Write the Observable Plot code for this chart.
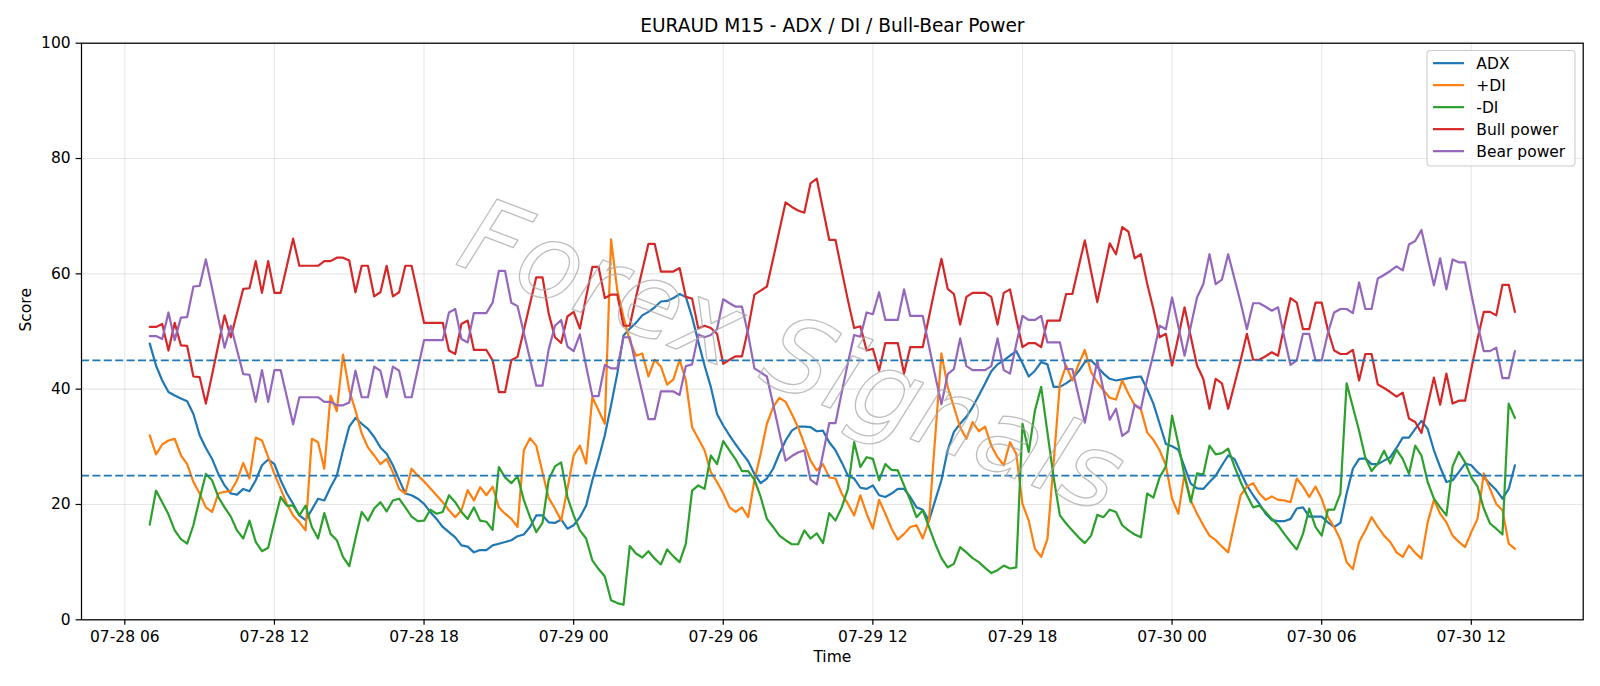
<!DOCTYPE html>
<html>
<head>
<meta charset="utf-8">
<script src="https://cdn.jsdelivr.net/npm/d3@7"></script>
<script src="https://cdn.jsdelivr.net/npm/@observablehq/plot@0.6"></script>
<style>
  html, body { margin: 0; padding: 0; background: #ffffff; }
  #chart { width: 1600px; height: 686px; }
</style>
</head>
<body>
<div id="chart"></div>
<script>
// EURAUD M15 indicator readings, one value per 15-minute bar
const startTime = "2025-07-28T07:00:00Z";
const stepMinutes = 15;

const adx = [
  47.9, 44.1, 41.5, 39.5, 38.9, 38.4, 37.9, 35.7, 32.0, 29.8, 27.9, 25.3, 23.3, 21.9, 21.7, 22.7, 22.3, 24.2, 26.8, 27.8,
  27.0, 24.2, 21.9, 20.1, 18.1, 17.3, 19.1, 21.0, 20.7, 23.0, 25.0, 29.4, 33.5,
  35.0, 34.0, 33.1, 31.7, 29.9, 28.8, 26.8, 24.3, 21.9, 21.6, 21.0, 20.1, 18.7, 17.5, 16.1, 15.2, 14.3, 12.9,
  12.7, 11.7, 12.1, 12.1, 12.9, 13.2, 13.5, 13.8, 14.5, 14.8, 16.1, 18.1, 18.1, 16.9,
  16.8, 17.4, 15.8, 16.4, 17.8, 19.8, 24.2, 27.9, 32.0, 37.2, 42.7, 49.3, 50.5, 51.5, 52.8, 53.4,
  54.2, 55.2, 55.3, 55.8, 56.5, 56.0, 52.5, 48.2, 44.1, 40.4, 35.7, 33.7, 32.0, 30.4, 28.9, 27.5,
  25.3, 23.7, 24.5, 26.2, 28.8, 31.1, 32.8, 33.5, 33.5, 33.4, 32.7, 32.8, 30.8, 29.4, 27.3, 25.0,
  24.5, 22.9, 22.7, 23.3, 21.6, 21.3, 21.9, 22.7, 22.7, 21.3, 19.5, 19.1, 17.2, 20.7, 24.2, 29.4,
  32.6, 34.0, 35.2, 36.9, 38.9, 41.0, 43.1, 44.3, 45.0, 45.8, 46.6, 44.5, 42.2, 43.2, 44.7, 44.3,
  40.4, 40.4, 41.0, 41.8, 43.1, 44.7, 45.0, 43.9, 42.7, 41.8, 41.5, 41.7, 41.9, 42.1, 42.2, 40.0,
  37.5, 34.0, 30.5, 30.1, 29.5, 26.5, 23.6, 22.8, 22.7, 23.9, 25.0, 26.8, 28.5, 27.9, 25.6, 23.3,
  21.6, 20.1, 18.4, 17.3, 17.1, 17.1, 17.5, 19.3, 19.5, 17.9, 17.9, 17.9, 16.9, 16.1, 16.8, 21.9,
  26.2, 27.9, 28.0, 27.0, 27.0, 27.6, 28.2, 29.8, 31.6, 31.6, 33.1, 34.5, 33.1, 29.4, 26.5, 23.9,
  24.2, 25.6, 27.1, 26.8, 25.6, 24.7, 23.6, 22.5, 21.0, 22.7, 26.8
];

const plusDI = [
  32.0, 28.7, 30.4, 31.1, 31.4, 28.5, 27.0, 23.9, 21.9, 19.5, 18.7, 21.9, 22.2, 22.3, 24.2, 27.2, 24.5, 31.6, 31.1, 28.2,
  25.3, 22.7, 20.1, 18.1, 16.9, 15.5, 31.4, 30.8, 26.2, 38.9, 36.2, 46.0, 39.8,
  36.3, 32.3, 29.9, 28.5, 27.0, 27.9, 25.6, 22.7, 21.9, 26.2, 25.0, 24.0, 22.8, 21.6, 20.4, 19.0,
  17.8, 19.0, 22.5, 20.7, 23.0, 21.6, 23.1, 19.5, 18.4, 17.5, 16.1, 29.4, 31.5, 30.2, 25.6, 21.1,
  19.3, 17.2, 22.7, 28.5, 30.2, 27.1, 38.6, 36.3, 34.0, 66.0, 57.1, 52.5, 48.4, 45.8, 46.2, 42.2,
  45.1, 43.9, 40.8, 41.7, 45.1, 41.5, 33.4, 31.4, 29.4, 25.6, 23.9, 21.9, 19.5, 18.7, 19.5, 17.8,
  24.2, 28.8, 34.0, 36.9, 38.5, 37.8, 35.7, 33.4, 30.5, 27.6, 25.9, 27.0, 24.7, 24.5, 21.9, 20.1,
  18.1, 21.6, 18.4, 15.8, 20.8, 18.4, 15.8, 13.9, 14.9, 16.1, 16.4, 14.1, 17.2, 31.7, 46.2, 40.4,
  36.9, 33.4, 31.4, 34.3, 32.7, 33.5, 30.2, 28.2, 26.8, 30.8, 28.8, 20.1, 17.2, 12.3, 10.9, 14.0,
  27.3, 40.9, 44.1, 41.5, 44.3, 46.8, 43.0, 41.2, 39.8, 38.5, 38.2, 41.5, 39.2, 37.2, 36.5, 32.5,
  31.2, 29.4, 26.8, 21.0, 18.4, 25.3, 20.7, 18.4, 16.4, 14.6, 13.8, 12.7, 11.7, 16.7, 21.6, 23.1,
  23.7, 21.9, 20.8, 21.4, 20.8, 20.7, 20.4, 24.5, 23.1, 21.3, 23.1, 21.0, 17.8, 16.1, 13.9, 10.0,
  8.8, 13.5, 15.5, 17.8, 16.1, 14.6, 13.5, 11.7, 10.9, 12.9, 11.6, 10.6, 16.9, 20.8, 18.4, 16.9,
  14.6, 13.5, 12.6, 15.2, 17.5, 25.4, 22.7, 20.1, 19.0, 13.2, 12.3
];

const minusDI = [
  16.5, 22.4, 20.4, 18.3, 15.5, 14.0, 13.2, 16.4, 21.0, 25.3, 24.2, 21.3, 19.5, 17.9, 15.5, 14.1, 17.2, 13.5, 11.9, 12.5,
  17.0, 21.3, 19.8, 19.8, 18.1, 19.8, 16.1, 14.1, 18.5, 14.9, 13.8, 10.9, 9.3,
  14.1, 18.7, 17.2, 19.3, 20.4, 18.8, 20.7, 21.0, 19.5, 17.9, 17.1, 17.2, 19.1, 18.4, 18.7, 21.6,
  20.4, 18.7, 17.5, 19.5, 17.2, 17.0, 15.6, 26.5, 24.7, 23.7, 24.9, 20.8, 17.8, 15.2, 16.8, 24.3,
  26.6, 27.3, 21.3, 18.1, 15.5, 14.1, 10.3, 8.8, 7.5, 3.4, 2.9, 2.6, 12.8, 11.5, 10.8, 11.9,
  10.6, 9.6, 12.2, 11.0, 10.0, 13.2, 22.4, 23.3, 22.7, 28.5, 27.0, 31.0, 29.4, 27.8, 25.8, 25.8,
  24.3, 21.3, 17.5, 16.1, 14.6, 13.8, 13.1, 13.1, 15.5, 14.1, 15.0, 13.3, 18.5, 17.2, 19.5, 22.7,
  30.8, 26.5, 28.2, 27.9, 24.2, 27.0, 26.0, 25.9, 23.3, 20.7, 17.8, 19.0, 16.1, 13.2, 10.7, 9.1,
  9.7, 12.6, 11.7, 10.7, 10.0, 9.0, 8.1, 8.6, 9.4, 8.9, 9.1, 34.0, 29.1, 36.3, 40.4, 32.5,
  24.7, 18.1, 16.7, 15.5, 14.3, 13.3, 14.6, 18.2, 17.8, 19.1, 18.7, 16.4, 15.5, 14.8, 14.3, 21.9,
  21.2, 24.7, 26.6, 35.4, 30.5, 24.9, 20.4, 25.4, 25.2, 30.2, 28.7, 28.9, 29.7, 26.6, 23.9, 21.6,
  19.5, 19.8, 18.7, 17.5, 16.4, 14.9, 13.5, 12.2, 14.9, 19.3, 16.1, 14.6, 19.1, 19.1, 21.9, 41.0,
  36.9, 32.8, 28.1, 25.8, 27.1, 29.3, 27.1, 29.5, 27.9, 25.3, 30.2, 28.5, 23.9, 21.0, 19.5, 18.1,
  26.6, 29.1, 27.3, 24.7, 23.1, 19.3, 16.7, 15.8, 14.8, 37.5, 35.0
];

const bullPower = [
  50.8, 50.8, 51.3, 46.7, 51.5, 47.6, 47.5, 42.2, 42.1, 37.5, 42.5, 47.7, 52.8, 49.0, 53.2, 57.4, 57.5, 62.2, 56.7, 62.2,
  56.7, 56.7, 61.4, 66.1, 61.4, 61.4, 61.4, 61.4, 62.2, 62.2, 62.8, 62.8, 62.3,
  56.8, 61.4, 61.4, 56.1, 56.8, 61.4, 56.1, 56.8, 61.4, 61.4, 56.5, 51.5, 51.5, 51.5, 51.5, 46.7,
  46.1, 51.3, 51.9, 46.8, 46.8, 46.8, 45.0, 39.5, 39.5, 45.0, 45.6, 50.2, 54.8, 59.4, 59.4, 53.1,
  49.0, 48.0, 52.6, 53.4, 50.5, 56.0, 61.2, 61.2, 55.8, 56.4, 56.4, 51.0, 51.0, 56.0, 60.6, 65.2,
  65.2, 60.4, 60.4, 60.4, 61.0, 56.0, 55.7, 50.5, 51.0, 50.6, 49.6, 44.4, 45.1, 45.7, 45.7, 50.5,
  56.4, 57.1, 57.8, 62.6, 67.5, 72.4, 71.6, 71.0, 70.6, 75.7, 76.5, 71.2, 65.9, 65.9, 60.6, 55.4,
  50.6, 50.9, 46.7, 47.0, 43.2, 48.0, 48.0, 48.0, 42.7, 47.3, 47.3, 47.3, 52.5, 57.7, 62.6, 57.4,
  56.5, 51.2, 56.0, 56.7, 56.7, 56.7, 56.0, 51.2, 56.7, 57.3, 52.2, 47.3, 48.0, 48.0, 47.3, 51.9,
  51.9, 51.9, 56.5, 56.5, 61.2, 65.8, 60.4, 55.1, 60.2, 65.3, 63.4, 68.1, 67.3, 62.7, 63.4, 58.3,
  53.9, 49.0, 49.6, 44.1, 49.1, 54.2, 49.1, 44.1, 41.8, 36.6, 41.8, 41.0, 36.6, 40.8, 45.0, 49.6,
  45.1, 45.1, 45.7, 46.4, 45.8, 51.0, 55.8, 55.0, 50.4, 50.4, 55.0, 55.0, 50.2, 46.7, 46.1, 46.1,
  46.8, 41.5, 46.1, 46.1, 40.8, 40.2, 39.5, 38.7, 39.4, 34.9, 34.3, 32.4, 37.2, 42.0, 37.3, 42.7,
  37.5, 38.0, 38.0, 43.5, 48.7, 53.4, 53.4, 52.8, 58.1, 58.1, 53.4
];

const bearPower = [
  49.2, 49.2, 48.7, 53.3, 48.5, 52.4, 52.5, 57.8, 57.9, 62.5, 57.5, 52.3, 47.2, 51.0, 46.8, 42.6, 42.5, 37.8, 43.3, 37.8,
  43.3, 43.3, 38.6, 33.9, 38.6, 38.6, 38.6, 38.6, 37.8, 37.8, 37.2, 37.2, 37.7,
  43.2, 38.6, 38.6, 43.9, 43.2, 38.6, 43.9, 43.2, 38.6, 38.6, 43.5, 48.5, 48.5, 48.5, 48.5, 53.3,
  53.9, 48.7, 48.1, 53.2, 53.2, 53.2, 55.0, 60.5, 60.5, 55.0, 54.4, 49.8, 45.2, 40.6, 40.6, 46.9,
  51.0, 52.0, 47.4, 46.6, 49.5, 44.0, 38.8, 38.8, 44.2, 43.6, 43.6, 49.0, 49.0, 44.0, 39.4, 34.8,
  34.8, 39.6, 39.6, 39.6, 39.0, 44.0, 44.3, 49.5, 49.0, 49.4, 50.4, 55.6, 54.9, 54.3, 54.3, 49.5,
  43.6, 42.9, 42.2, 37.4, 32.5, 27.6, 28.4, 29.0, 29.4, 24.3, 23.5, 28.8, 34.1, 34.1, 39.4, 44.6,
  49.4, 49.1, 53.3, 53.0, 56.8, 52.0, 52.0, 52.0, 57.3, 52.7, 52.7, 52.7, 47.5, 42.3, 37.4, 42.6,
  43.5, 48.8, 44.0, 43.3, 43.3, 43.3, 44.0, 48.8, 43.3, 42.7, 47.8, 52.7, 52.0, 52.0, 52.7, 48.1,
  48.1, 48.1, 43.5, 43.5, 38.8, 34.2, 39.6, 44.9, 39.8, 34.7, 36.6, 31.9, 32.7, 37.3, 36.6, 41.7,
  46.1, 51.0, 50.4, 55.9, 50.9, 45.8, 50.9, 55.9, 58.2, 63.4, 58.2, 59.0, 63.4, 59.2, 55.0, 50.4,
  54.9, 54.9, 54.3, 53.6, 54.2, 49.0, 44.2, 45.0, 49.6, 49.6, 45.0, 45.0, 49.8, 53.3, 53.9, 53.9,
  53.2, 58.5, 53.9, 53.9, 59.2, 59.8, 60.5, 61.3, 60.6, 65.1, 65.7, 67.6, 62.8, 58.0, 62.7, 57.3,
  62.5, 62.0, 62.0, 56.5, 51.3, 46.6, 46.6, 47.2, 41.9, 41.9, 46.6
];

const seriesNames = ["ADX", "+DI", "-DI", "Bull power", "Bear power"];
const seriesColors = ["#1f77b4", "#ff7f0e", "#2ca02c", "#d62728", "#9467bd"];
const referenceLevels = [25, 45];
const yTicks = [0, 20, 40, 60, 80, 100];
const chartTitle = "EURAUD M15 - ADX / DI / Bull-Bear Power";
const xLabel = "Time";
const yLabel = "Score";
const watermark = "Forex Signals";

// ---- derived table ----
const seriesValues = [adx, plusDI, minusDI, bullPower, bearPower];
const t0 = new Date(startTime);
const times = adx.map((_, i) => new Date(+t0 + i * stepMinutes * 60000));
const rows = seriesNames.flatMap((name, k) =>
  seriesValues[k].map((value, i) => ({series: name, time: times[i], value}))
);

// x extent padded by 5% of the data span on both sides
const span = times[times.length - 1] - times[0];
const xDomain = [new Date(+times[0] - 0.05 * span), new Date(+times[times.length - 1] + 0.05 * span)];
const xTicks = d3.utcHour.every(6).range(xDomain[0], xDomain[1]);

// ---- layout ----
const W = 1600, H = 686;
const M = {top: 42.7, right: 17.3, bottom: 66.7, left: 81};
const FONT = "DejaVu Sans";
const fs = 15.5;          // tick / label / legend size
const lw = 2.2;           // series line width

// legend drawn inside the axes, upper-right corner
function legend() {
  const right = W - M.right - 7.75;
  const top = M.top + 7.75;
  const boxW = 148, boxH = 115.5;
  const left = right - boxW;
  const g = d3.create("svg:g")
    .attr("font-family", FONT)
    .attr("font-size", fs)
    .attr("text-anchor", "start");
  g.append("rect")
    .attr("x", left).attr("y", top)
    .attr("width", boxW).attr("height", boxH)
    .attr("rx", 3.5)
    .attr("fill", "#ffffff").attr("fill-opacity", 0.8)
    .attr("stroke", "#cccccc").attr("stroke-width", 1.1);
  seriesNames.forEach((name, k) => {
    const cy = top + 12.7 + k * 22;
    g.append("line")
      .attr("x1", left + 6).attr("x2", left + 6 + 31)
      .attr("y1", cy).attr("y2", cy)
      .attr("stroke", seriesColors[k]).attr("stroke-width", lw);
    g.append("text")
      .attr("x", left + 6 + 31 + 12.4).attr("y", cy)
      .attr("dy", "0.36em")
      .attr("text-anchor", "start")
      .attr("fill", "#000")
      .text(name);
  });
  return g.node();
}

const chart = Plot.plot({
  width: W,
  height: H,
  marginTop: M.top,
  marginRight: M.right,
  marginBottom: M.bottom,
  marginLeft: M.left,
  style: {fontFamily: FONT, fontSize: fs + "px", background: "#ffffff", color: "#000000"},
  x: {type: "utc", domain: xDomain},
  y: {domain: [0, 100]},
  color: {domain: seriesNames, range: seriesColors},
  marks: [
    Plot.gridX(xTicks, {stroke: "#b0b0b0", strokeOpacity: 0.3, strokeWidth: 1.1}),
    Plot.gridY(yTicks, {stroke: "#b0b0b0", strokeOpacity: 0.3, strokeWidth: 1.1}),
    Plot.line(rows, {x: "time", y: "value", z: "series", stroke: "series", strokeWidth: lw}),
    Plot.ruleY(referenceLevels, {stroke: "#1f77b4", strokeWidth: 1.6, strokeDasharray: "8,3.4"}),
    Plot.text([watermark], {
      text: d => d, frameAnchor: "middle", lineAnchor: "middle", dx: -41, dy: 26, rotate: 21,
      fontSize: 104, fontStyle: "italic", fontFamily: "DejaVu Sans", fontWeight: 200,
      fill: "none", stroke: "#a8a8a8", strokeWidth: 1.3, strokeOpacity: 0.75
    }),
    Plot.frame({stroke: "#000000", strokeWidth: 1.25}),
    Plot.axisX(xTicks, {
      tickFormat: d3.utcFormat("%m-%d %H"), tickSize: 5.4, tickPadding: 5.4,
      fontSize: fs, label: null, stroke: "#000000", strokeWidth: 1.2
    }),
    Plot.axisY(yTicks, {
      tickSize: 5.4, tickPadding: 5.4, fontSize: fs, label: null,
      stroke: "#000000", strokeWidth: 1.2
    }),
    Plot.text([chartTitle], {text: d => d, frameAnchor: "top", lineAnchor: "middle", dy: -17.2, fontSize: 18.6, fill: "#000"}),
    Plot.text([xLabel], {text: d => d, frameAnchor: "bottom", lineAnchor: "middle", dy: 37, fontSize: fs, fill: "#000"}),
    Plot.text([yLabel], {text: d => d, frameAnchor: "left", lineAnchor: "middle", dx: -55, rotate: -90, fontSize: fs, fill: "#000"}),
    legend
  ]
});

document.getElementById("chart").appendChild(chart);
</script>
</body>
</html>
